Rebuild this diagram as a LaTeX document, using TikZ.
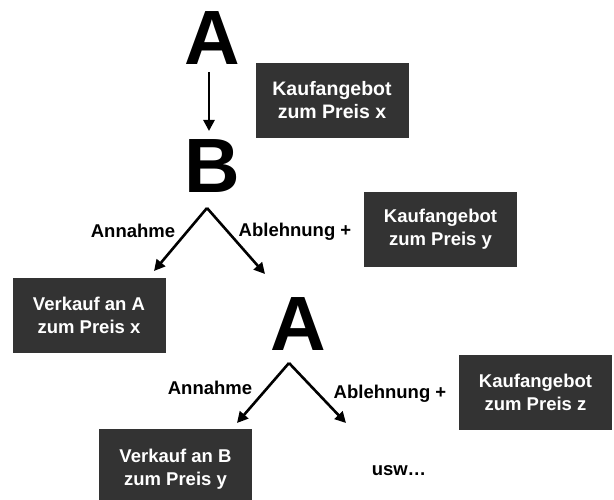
\documentclass[tikz,border=0pt]{standalone}
\usepackage{fontspec}
\setmainfont{Liberation Sans}
\usetikzlibrary{arrows.meta}
\definecolor{boxgray}{HTML}{333333}
\begin{document}
\begin{tikzpicture}[x=1pt,y=-1pt,
  big/.style={font=\fontsize{77}{77}\selectfont\bfseries, inner sep=0pt, anchor=base},
  box/.style={fill=boxgray, text=white, font=\fontsize{18.5}{23}\selectfont\bfseries,
    minimum width=153pt, minimum height=75pt, align=center, inner sep=0pt},
  lbl/.style={font=\fontsize{18.5}{23}\selectfont\bfseries, inner sep=0pt, anchor=base},
  arr/.style={line width=2.6pt, -{Triangle[length=11pt,width=11pt]}}]
\useasboundingbox (0,0) rectangle (614,500);
\clip (0,0) rectangle (614,500);
% big letters
\node[big] (A1) at (212,65) {A};
\node[big] (B) at (212,193) {B};
\node[big] (A2) at (298,350) {A};
% boxes
\node[box, font=\fontsize{19.5}{23}\selectfont\bfseries] (kx) at (332,100.5) {Kaufangebot\\zum Preis x};
\node[box] (ky) at (440.5,229.5) {Kaufangebot\\zum Preis y};
\node[box] (kz) at (535.5,392.5) {Kaufangebot\\zum Preis z};
\node[box] (va) at (89,315.5) {Verkauf an A\\zum Preis x};
\node[box, minimum height=80pt] (vb) at (175.5,469) {Verkauf an B\\zum Preis y};
% labels
\node[lbl] (an1) at (133,238) {Annahme};
\node[lbl] (ab1) at (295,237) {Ablehnung +};
\node[lbl] (an2) at (210,394) {Annahme};
\node[lbl] (ab2) at (390,398) {Ablehnung +};
\node[lbl] (usw) at (399,475) {usw…};
% connector points
\coordinate (a1s) at (209,72);
\coordinate (bn) at (209,131);
\coordinate (p1) at (207,208);
\coordinate (l1) at (154,271);
\coordinate (r1) at (265,274);
\coordinate (p2) at (289,363);
\coordinate (l2) at (237,423);
\coordinate (r2) at (346,423);
% arrows
\draw[arr] (a1s) -- (bn);
\draw[arr] (p1) -- (l1);
\draw[arr] (p1) -- (r1);
\draw[arr] (p2) -- (l2);
\draw[arr] (p2) -- (r2);
\end{tikzpicture}
\end{document}
